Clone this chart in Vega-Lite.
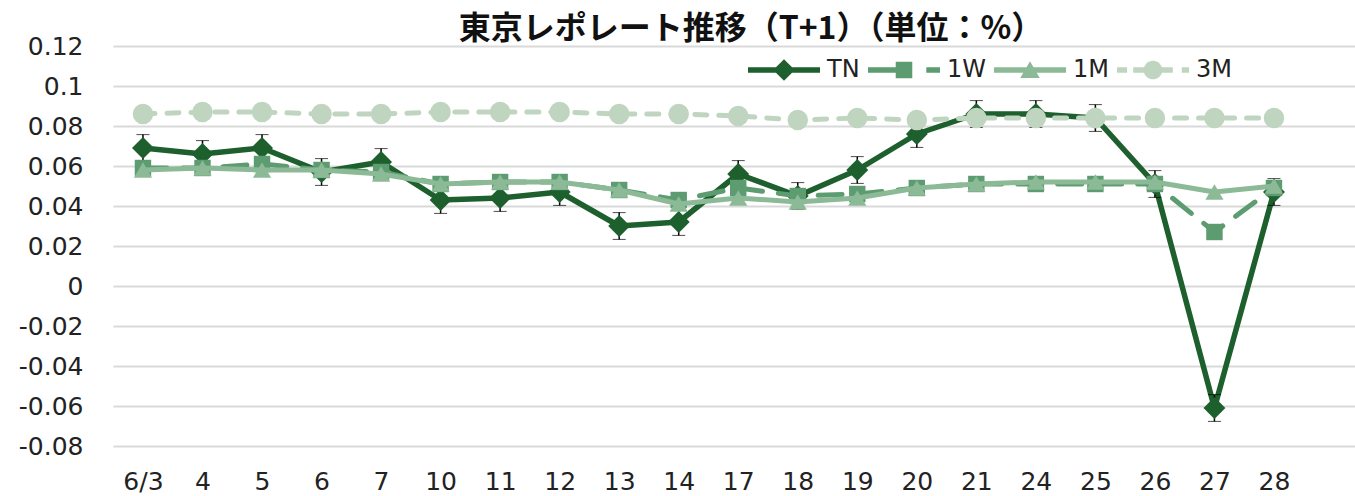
{
  "$schema": "https://vega.github.io/schema/vega-lite/v6.json",
  "width": 1242,
  "height": 400,
  "autosize": {"type": "none"},
  "padding": {"left": 113, "top": 46, "right": 0, "bottom": 50},
  "background": "white",
  "title": {
    "text": "東京レポレート推移（T+1）（単位：%）",
    "font": "Noto Sans CJK JP",
    "fontWeight": "bold",
    "fontSize": 32,
    "color": "#111111",
    "anchor": "middle",
    "dx": 17,
    "offset": -12
  },
  "data": {
    "values": [
      {"d": "6/3", "TN": 0.069, "W1": 0.059, "M1": 0.058, "M3": 0.086, "E": 0.0067},
      {"d": "4", "TN": 0.066, "W1": 0.059, "M1": 0.059, "M3": 0.087, "E": 0.0067},
      {"d": "5", "TN": 0.069, "W1": 0.061, "M1": 0.058, "M3": 0.087, "E": 0.0067},
      {"d": "6", "TN": 0.057, "W1": 0.058, "M1": 0.058, "M3": 0.086, "E": 0.0067},
      {"d": "7", "TN": 0.062, "W1": 0.057, "M1": 0.056, "M3": 0.086, "E": 0.0067},
      {"d": "10", "TN": 0.043, "W1": 0.051, "M1": 0.051, "M3": 0.087, "E": 0.0067},
      {"d": "11", "TN": 0.044, "W1": 0.052, "M1": 0.052, "M3": 0.087, "E": 0.0067},
      {"d": "12", "TN": 0.047, "W1": 0.052, "M1": 0.052, "M3": 0.087, "E": 0.0067},
      {"d": "13", "TN": 0.030, "W1": 0.048, "M1": 0.048, "M3": 0.086, "E": 0.0067},
      {"d": "14", "TN": 0.032, "W1": 0.043, "M1": 0.041, "M3": 0.086, "E": 0.0067},
      {"d": "17", "TN": 0.056, "W1": 0.049, "M1": 0.044, "M3": 0.085, "E": 0.0067},
      {"d": "18", "TN": 0.045, "W1": 0.045, "M1": 0.042, "M3": 0.083, "E": 0.0067},
      {"d": "19", "TN": 0.058, "W1": 0.046, "M1": 0.044, "M3": 0.084, "E": 0.0067},
      {"d": "20", "TN": 0.076, "W1": 0.049, "M1": 0.049, "M3": 0.083, "E": 0.0067},
      {"d": "21", "TN": 0.086, "W1": 0.051, "M1": 0.051, "M3": 0.084, "E": 0.0067},
      {"d": "24", "TN": 0.086, "W1": 0.051, "M1": 0.052, "M3": 0.084, "E": 0.0067},
      {"d": "25", "TN": 0.084, "W1": 0.051, "M1": 0.052, "M3": 0.084, "E": 0.0067},
      {"d": "26", "TN": 0.051, "W1": 0.051, "M1": 0.052, "M3": 0.084, "E": 0.0067},
      {"d": "27", "TN": -0.061, "W1": 0.027, "M1": 0.047, "M3": 0.084, "E": 0.0067},
      {"d": "28", "TN": 0.047, "W1": 0.049, "M1": 0.050, "M3": 0.084, "E": 0.0067}
    ]
  },
  "encoding": {
    "x": {
      "field": "d",
      "type": "nominal",
      "sort": null,
      "title": null,
      "scale": {"type": "point", "padding": 0.9324, "align": 0.27},
      "axis": {
        "domain": false,
        "ticks": false,
        "grid": false,
        "labelAngle": 0,
        "labelFont": "DejaVu Sans",
        "labelFontSize": 25,
        "labelColor": "#222222",
        "labelPadding": 23
      }
    },
    "y": {
      "type": "quantitative",
      "title": null,
      "scale": {"domain": [-0.08, 0.12], "nice": false, "zero": false},
      "axis": {
        "values": [-0.08, -0.06, -0.04, -0.02, 0, 0.02, 0.04, 0.06, 0.08, 0.1, 0.12],
        "domain": false,
        "ticks": false,
        "grid": true,
        "gridColor": "#d9d9d9",
        "gridWidth": 2,
        "labelOverlap": false,
        "labelFont": "DejaVu Sans",
        "labelFontSize": 25,
        "labelColor": "#222222",
        "labelPadding": 30,
        "format": ".2~f"
      }
    }
  },
  "layer": [
    {
      "mark": {"type": "line", "strokeWidth": 5.5, "strokeJoin": "round", "strokeCap": "round"},
      "encoding": {
        "y": {"field": "TN"},
        "color": {
          "datum": "TN",
          "type": "nominal",
          "scale": {"domain": ["TN", "1W", "1M", "3M"], "range": ["#1e5f2e", "#5c9c70", "#8cba97", "#bfd5bf"]},
          "legend": {
            "orient": "none",
            "legendX": 635,
            "legendY": -12,
            "direction": "horizontal",
            "title": null,
            "symbolSize": 5184,
            "labelFont": "DejaVu Sans",
            "labelFontSize": 24,
            "labelColor": "#222222",
            "labelOffset": 7,
            "columnPadding": 8,
            "encode": {
              "symbols": {
                "update": {
                  "shape": {"signal": "datum.value === 'TN' ? 'M-1,-0.075H1V0.075H-1Z M0,-0.3L0.3,0L0,0.3L-0.3,0Z' : datum.value === '1W' ? 'M-1,-0.075H-0.22V0.075H-1Z M-0.23,-0.23H0.23V0.23H-0.23Z M0.62,-0.075H1V0.075H0.62Z' : datum.value === '1M' ? 'M-1,-0.075H1V0.075H-1Z M0,-0.24L0.27,0.22H-0.27Z' : 'M-1,-0.075H-0.72V0.075H-1Z M-0.55,-0.075H-0.2V0.075H-0.55Z M-0.26,0A0.26,0.26 0 1 1 0.26,0A0.26,0.26 0 1 1 -0.26,0Z M0.2,-0.075H0.55V0.075H0.2Z M0.8,-0.075H1V0.075H0.8Z'"},
                  "fill": {"signal": "scale('color', datum.value)"},
                  "fillOpacity": {"value": 1},
                  "opacity": {"value": 1},
                  "stroke": {"value": "transparent"},
                  "strokeWidth": {"value": 0}
                }
              }
            }
          }
        }
      }
    },
    {
      "mark": {
        "type": "errorbar",
        "ticks": {"size": 13, "color": "#000000", "strokeWidth": 1.5},
        "rule": {"color": "#000000", "strokeWidth": 1.5}
      },
      "encoding": {
        "y": {"field": "TN"},
        "yError": {"field": "E"}
      }
    },
    {
      "mark": {"type": "point", "shape": "diamond", "filled": true, "opacity": 1, "size": 480},
      "encoding": {
        "y": {"field": "TN"},
        "color": {"datum": "TN", "type": "nominal"}
      }
    },
    {
      "mark": {"type": "line", "strokeWidth": 5, "strokeDash": [24, 16], "strokeCap": "round", "strokeJoin": "round"},
      "encoding": {
        "y": {"field": "W1"},
        "color": {"datum": "1W", "type": "nominal"}
      }
    },
    {
      "mark": {"type": "point", "shape": "square", "filled": true, "opacity": 1, "size": 270},
      "encoding": {
        "y": {"field": "W1"},
        "color": {"datum": "1W", "type": "nominal"}
      }
    },
    {
      "mark": {"type": "line", "strokeWidth": 5, "strokeCap": "round", "strokeJoin": "round"},
      "encoding": {
        "y": {"field": "M1"},
        "color": {"datum": "1M", "type": "nominal"}
      }
    },
    {
      "mark": {"type": "point", "shape": "triangle-up", "filled": true, "opacity": 1, "size": 330},
      "encoding": {
        "y": {"field": "M1"},
        "color": {"datum": "1M", "type": "nominal"}
      }
    },
    {
      "mark": {"type": "line", "strokeWidth": 5, "strokeDash": [12, 12], "strokeCap": "round", "strokeJoin": "round"},
      "encoding": {
        "y": {"field": "M3"},
        "color": {"datum": "3M", "type": "nominal"}
      }
    },
    {
      "mark": {"type": "point", "shape": "circle", "filled": true, "opacity": 1, "size": 420},
      "encoding": {
        "y": {"field": "M3"},
        "color": {"datum": "3M", "type": "nominal"}
      }
    }
  ],
  "config": {
    "view": {"stroke": null},
    "locale": {"number": {"decimal": ".", "thousands": ",", "grouping": [3], "currency": ["", ""], "minus": "-"}}
  }
}
